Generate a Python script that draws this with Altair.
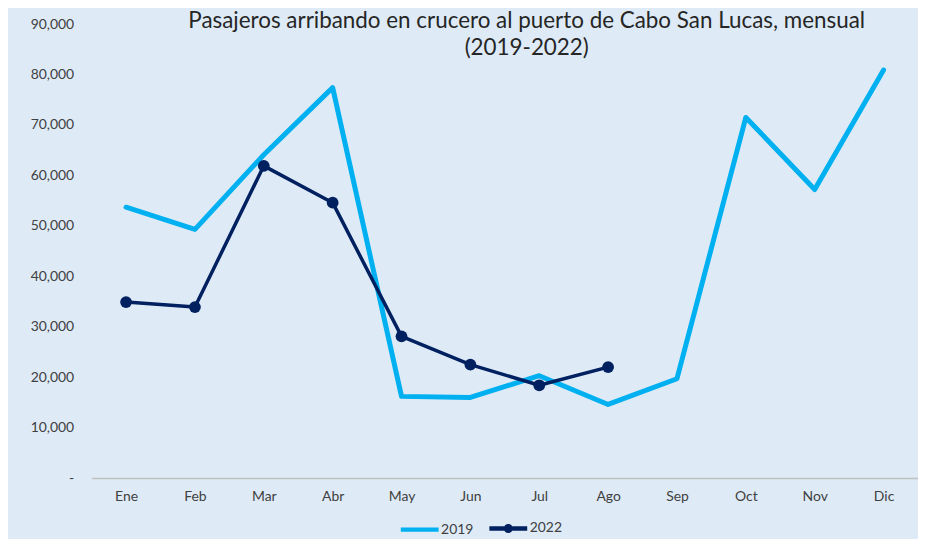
import altair as alt
import pandas as pd

meses = ["Ene", "Feb", "Mar", "Abr", "May", "Jun", "Jul", "Ago", "Sep", "Oct", "Nov", "Dic"]
pasajeros_2019 = [53700, 49300, 64100, 77400, 16200, 16000, 20300, 14600, 19700, 71500, 57200, 80900]
pasajeros_2022 = [34900, 33900, 61900, 54600, 28100, 22500, 18400, 22000]
series = ["2019", "2022"]
y_ticks = [0, 10000, 20000, 30000, 40000, 50000, 60000, 70000, 80000, 90000]
titulo = ["Pasajeros arribando en crucero al puerto de Cabo San Lucas, mensual", "(2019-2022)"]

LIGHT = "#00B0F0"
NAVY = "#002060"
BG = "#DEEBF7"
TXT = "#404040"
FONT = "Lato"

rows = []
for m, v in zip(meses, pasajeros_2019):
    rows.append({"mes": m, "serie": "2019", "valor": v})
for m, v in zip(meses, pasajeros_2022):
    rows.append({"mes": m, "serie": "2022", "valor": v})
df = pd.DataFrame(rows)

x = alt.X("mes:N", sort=meses, scale=alt.Scale(domain=meses),
          axis=alt.Axis(title=None, labelAngle=0, ticks=False, domain=True,
                        domainColor="#BFBFBF", domainWidth=1.5, labelPadding=12,
                        labelFont=FONT, labelFontSize=14, labelColor=TXT))
y = alt.Y("valor:Q", scale=alt.Scale(domain=[0, 90000], nice=False),
          axis=alt.Axis(title=None, values=y_ticks, ticks=False, domain=False, grid=False,
                        labelPadding=18, labelFont=FONT, labelFontSize=14, labelColor=TXT,
                        labelExpr="datum.value == 0 ? '-\u2007' : format(datum.value, ',')"))

base = alt.Chart(df).encode(x=x, y=y)

line19 = base.transform_filter("datum.serie == '2019'").mark_line(
    color=LIGHT, strokeWidth=5, strokeJoin="round", strokeCap="round")
line22 = base.transform_filter("datum.serie == '2022'").mark_line(
    color=NAVY, strokeWidth=3.5, strokeJoin="round", strokeCap="round")
pts22 = base.transform_filter("datum.serie == '2022'").mark_point(
    filled=True, size=140, color=NAVY, opacity=1)

path19 = "M-1,0L1,0"
path22 = "M-1,0L1,0M0.12,0A0.12,0.12 0 1 1 -0.12,0A0.12,0.12 0 1 1 0.12,0"

leg = alt.Legend(title=None, orient="none", legendX=308, legendY=485, direction="horizontal",
                 symbolSize=1444, symbolStrokeWidth=4.5, symbolOpacity=1,
                 labelFont=FONT, labelFontSize=14,
                 labelColor=TXT, labelOffset=0, columnPadding=6)

legend_layer = base.mark_point(opacity=0, filled=False).encode(
    color=alt.Color("serie:N", scale=alt.Scale(domain=series, range=[LIGHT, NAVY]), legend=leg),
    shape=alt.Shape("serie:N", scale=alt.Scale(domain=series, range=[path19, path22]), legend=leg),
)

chart = alt.layer(line19, line22, pts22, legend_layer).properties(
    width=830, height=456,
    title=alt.Title(text=titulo, fontSize=22.5, font=FONT, fontWeight="normal", color="#262626",
                    anchor="middle", offset=-43, dx=22, lineHeight=28),
    autosize=alt.AutoSizeParams(type="none"),
    padding={"left": 84, "top": 15, "right": 0, "bottom": 60},
    background=BG,
).configure_view(stroke=None)

chart.save("out.html", embed_options={"renderer": "svg", "actions": False})
